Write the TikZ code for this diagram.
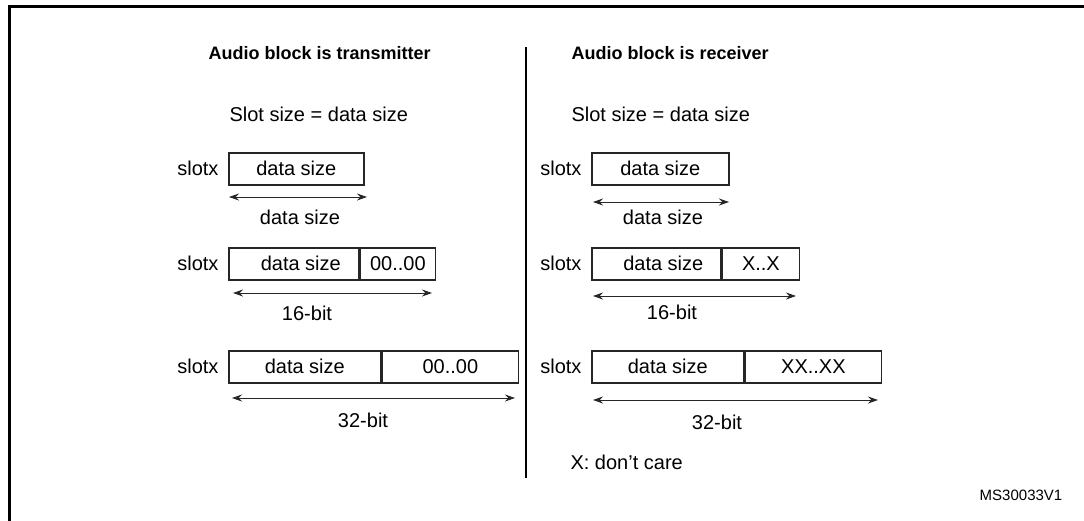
\documentclass[tikz,border=0pt]{standalone}
\usepackage{fontspec}
\setmainfont{Liberation Sans}
\usetikzlibrary{positioning,arrows.meta}

\begin{document}
\begin{tikzpicture}[x=1pt, y=-1pt, >={Stealth[length=10pt,width=7pt]},
    field/.style={draw, line width=1.6pt, draw=black!85, minimum height=32pt, inner sep=0pt,
                  font=\fontsize{20}{24}\selectfont, anchor=north west},
    lbl/.style={font=\fontsize{20}{24}\selectfont},
    head/.style={font=\fontsize{18}{22}\selectfont\bfseries, anchor=west},
    dim/.style={<->, line width=0.9pt, black!85}]
  \useasboundingbox (0,0) rectangle (1084,520);

  % frame and divider
  \draw[line width=3pt] (1090,6.5) -- (9.5,6.5) -- (9.5,530);
  \coordinate (divtop) at (526,47);
  \coordinate (divbot) at (526,478);
  \draw[line width=2pt] (divtop) -- (divbot);

  % transmitter side
  \node[head] (txhead) at (205,53) {Audio block is transmitter};
  \node[lbl, anchor=west] (txslot) at (226,114) {Slot size = data size};

  \node[field, minimum width=135] (t1d) at (228,152) {data size};
  \node[lbl, left=6pt of t1d] (t1s) {slotx};
  \coordinate (t1a) at (229,197);
  \coordinate (t1b) at (367,197);
  \draw[dim] (t1a) -- (t1b);
  \node[lbl] (t1l) at (300,217) {data size};

  \node[field, minimum width=130] (t2d) at (228,247) {\hspace{14pt}data size};
  \node[field, minimum width=75] (t2p) at (t2d.north east) {00..00};
  \node[lbl, left=6pt of t2d] (t2s) {slotx};
  \coordinate (t2a) at (233,293);
  \coordinate (t2b) at (432,293);
  \draw[dim] (t2a) -- (t2b);
  \node[lbl] (t2l) at (307,313) {16-bit};

  \node[field, minimum width=152] (t3d) at (228,350) {data size};
  \node[field, minimum width=136] (t3p) at (t3d.north east) {00..00};
  \node[lbl, left=6pt of t3d] (t3s) {slotx};
  \coordinate (t3a) at (232,398);
  \coordinate (t3b) at (515,398);
  \draw[dim] (t3a) -- (t3b);
  \node[lbl] (t3l) at (363,420) {32-bit};

  % receiver side
  \node[head] (rxhead) at (568,53) {Audio block is receiver};
  \node[lbl, anchor=west] (rxslot) at (568,114) {Slot size = data size};

  \node[field, minimum width=137] (r1d) at (591,152) {data size};
  \node[lbl, left=6pt of r1d] (r1s) {slotx};
  \coordinate (r1a) at (593,202);
  \coordinate (r1b) at (729,202);
  \draw[dim] (r1a) -- (r1b);
  \node[lbl] (r1l) at (663,217) {data size};

  \node[field, minimum width=129] (r2d) at (591,247) {\hspace{14pt}data size};
  \node[field, minimum width=77] (r2p) at (r2d.north east) {X..X};
  \node[lbl, left=6pt of r2d] (r2s) {slotx};
  \coordinate (r2a) at (593,296);
  \coordinate (r2b) at (796,296);
  \draw[dim] (r2a) -- (r2b);
  \node[lbl] (r2l) at (672,312) {16-bit};

  \node[field, minimum width=152] (r3d) at (591,350) {data size};
  \node[field, minimum width=136] (r3p) at (r3d.north east) {XX..XX};
  \node[lbl, left=6pt of r3d] (r3s) {slotx};
  \coordinate (r3a) at (593,400);
  \coordinate (r3b) at (878,400);
  \draw[dim] (r3a) -- (r3b);
  \node[lbl] (r3l) at (717,422) {32-bit};

  \node[lbl, anchor=west] (xnote) at (567,462) {X: don’t care};
  \node[font=\fontsize{15}{18}\selectfont] (figid) at (1021,495) {MS30033V1};
\end{tikzpicture}
\end{document}
